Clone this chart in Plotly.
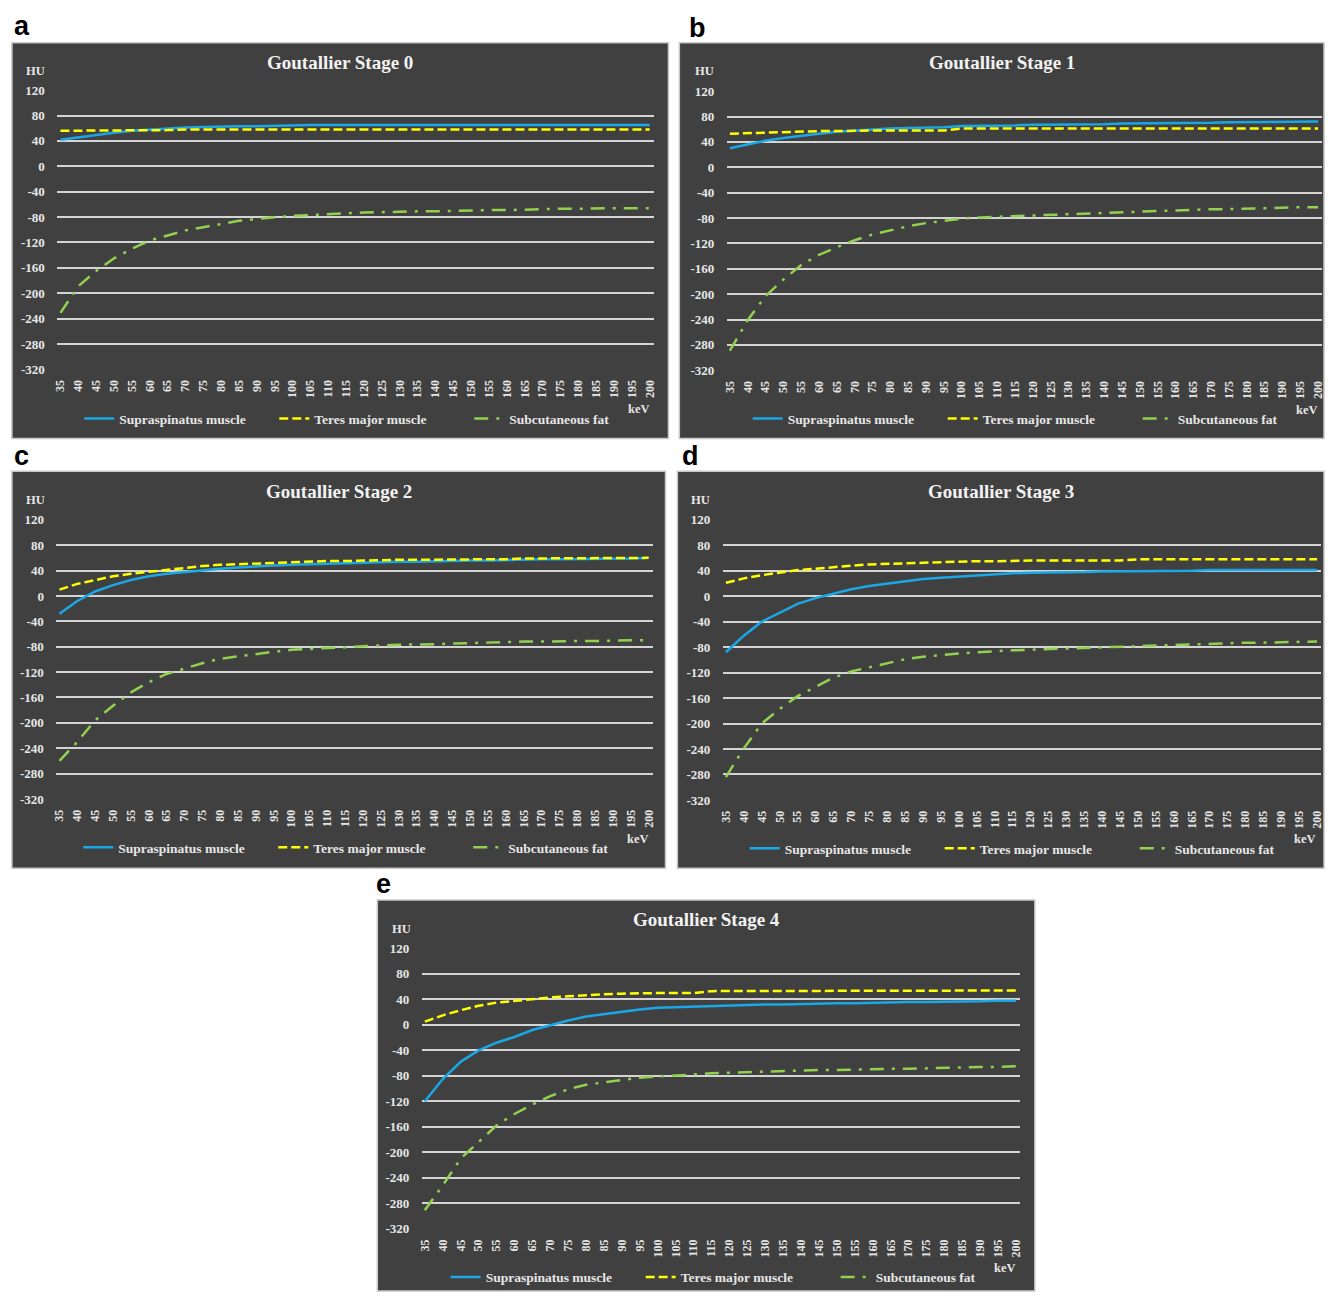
import plotly.graph_objects as go

# ---------------- data ----------------
kev = [35, 40, 45, 50, 55, 60, 65, 70, 75, 80, 85, 90, 95, 100, 105, 110, 115, 120,
       125, 130, 135, 140, 145, 150, 155, 160, 165, 170, 175, 180, 185, 190, 195, 200]
y_ticks = [120, 80, 40, 0, -40, -80, -120, -160, -200, -240, -280, -320]
y_tick_labels = ["120", "80", "40", "0", "-40", "-80", "-120", "-160", "-200", "-240", "-280", "-320"]

series_names = ["Supraspinatus muscle", "Teres major muscle", "Subcutaneous fat"]
stage_titles = ["Goutallier Stage 0", "Goutallier Stage 1", "Goutallier Stage 2",
                "Goutallier Stage 3", "Goutallier Stage 4"]
panel_letters = ["a", "b", "c", "d", "e"]

s0_supra = [42, 46, 50, 53, 56, 58, 60, 61, 62, 63, 63, 63, 64, 64, 65, 65, 65, 65,
            65, 65, 65, 65, 65, 65, 65, 65, 65, 65, 65, 65, 65, 65, 65, 65]
s0_teres = [56, 56, 56, 57, 57, 57, 57, 58, 58, 58, 58, 58, 58, 58, 58, 58, 58, 58,
            58, 58, 58, 58, 58, 58, 58, 58, 58, 58, 58, 58, 58, 58, 58, 58]
s0_fat = [-231, -189, -165, -145, -130, -117, -109, -101, -96, -91, -86, -83, -80, -78, -77, -75, -74, -73,
          -72, -72, -71, -71, -70, -70, -69, -69, -68, -68, -67, -67, -66, -66, -66, -66]

s1_supra = [30, 36, 42, 46, 50, 53, 56, 58, 60, 61, 62, 62, 63, 65, 65, 66, 66, 67,
            67, 68, 68, 68, 69, 69, 69, 70, 70, 70, 71, 71, 71, 71, 72, 72]
s1_teres = [53, 54, 55, 56, 56, 57, 57, 58, 58, 58, 58, 58, 58, 61, 61, 61, 61, 61,
            61, 61, 61, 61, 61, 61, 61, 61, 61, 61, 61, 61, 61, 61, 61, 61]
s1_fat = [-289, -241, -203, -177, -154, -138, -126, -115, -106, -99, -93, -88, -84, -81, -79, -78, -76, -75,
          -74, -73, -72, -71, -70, -69, -68, -67, -67, -66, -66, -65, -65, -64, -63, -63]

s2_supra = [-28, -8, 7, 17, 25, 31, 35, 38, 41, 43, 45, 47, 48, 49, 50, 51, 52, 53,
            53, 54, 54, 55, 55, 56, 56, 57, 57, 58, 58, 58, 59, 59, 59, 60]
s2_teres = [10, 19, 25, 31, 35, 38, 41, 45, 47, 49, 50, 52, 53, 54, 54, 55, 55, 56,
            56, 57, 57, 57, 58, 58, 58, 58, 59, 59, 59, 59, 60, 60, 60, 60]
s2_fat = [-260, -230, -196, -173, -152, -136, -123, -114, -106, -99, -95, -91, -88, -85, -83, -82, -81, -79,
          -78, -77, -77, -76, -75, -74, -73, -73, -72, -72, -71, -71, -71, -70, -70, -70]

s3_supra = [-88, -62, -40, -26, -12, -3, 4, 11, 16, 20, 24, 27, 29, 31, 33, 34, 36, 37,
            37, 38, 38, 39, 39, 39, 40, 40, 40, 41, 41, 41, 41, 41, 41, 41]
s3_teres = [21, 28, 33, 37, 41, 43, 46, 48, 50, 51, 52, 53, 54, 54, 55, 55, 56, 56,
            56, 56, 56, 56, 56, 58, 58, 58, 58, 58, 58, 58, 58, 58, 58, 58]
s3_fat = [-284, -239, -200, -177, -157, -142, -128, -118, -112, -105, -99, -95, -92, -90, -88, -86, -85, -84,
          -83, -82, -81, -80, -79, -78, -77, -76, -75, -75, -74, -73, -73, -72, -71, -71]

s4_supra = [-120, -85, -58, -40, -28, -19, -8, 0, 7, 13, 17, 21, 24, 27, 28, 29, 30, 31,
            31, 32, 32, 33, 33, 34, 34, 35, 35, 36, 36, 36, 37, 37, 38, 38]
s4_teres = [5, 15, 23, 30, 35, 38, 41, 43, 45, 47, 48, 49, 50, 50, 50, 50, 53, 53,
            53, 53, 53, 53, 53, 53, 53, 54, 54, 54, 54, 54, 54, 54, 54, 54]
s4_fat = [-291, -252, -210, -184, -158, -140, -125, -112, -101, -94, -90, -87, -83, -81, -80, -78, -76, -75,
          -74, -73, -73, -72, -71, -71, -70, -70, -69, -69, -68, -67, -67, -66, -66, -65]

stage_data = [
    (s0_supra, s0_teres, s0_fat),
    (s1_supra, s1_teres, s1_fat),
    (s2_supra, s2_teres, s2_fat),
    (s3_supra, s3_teres, s3_fat),
    (s4_supra, s4_teres, s4_fat),
]

# ---------------- layout (pixel geometry) ----------------
W, H = 1333, 1298
panels = [
    dict(box=(8, 37, 671, 437), x35=57, x200=652, y120=85, y320=367, leg=(76, 417), kevp=(641, 407), hup=(32, 66), let=(18, 20)),
    dict(box=(682, 37, 1333, 437), x35=733, x200=1327, y120=86, y320=368, leg=(751, 417), kevp=(1316, 408), hup=(707, 66), let=(700, 22)),
    dict(box=(8, 470, 668, 871), x35=56, x200=651, y120=519, y320=801, leg=(75, 850), kevp=(640, 841), hup=(32, 499), let=(18, 455)),
    dict(box=(680, 470, 1333, 871), x35=729, x200=1326, y120=519, y320=802, leg=(748, 851), kevp=(1314, 841), hup=(703, 499), let=(693, 455)),
    dict(box=(377, 903, 1041, 1298), x35=425, x200=1022, y120=952, y320=1235, leg=(446, 1284), kevp=(1011, 1275), hup=(401, 932), let=(383, 887)),
]

colors = ["#1aa7e6", "#ffff00", "#92d050"]
dashes = ["solid", "9px,4px", "14px,8px,3px,8px"]
BG = "#404040"
GRID = "#d4d4d4"
TXT = "#e6e6e6"
SERIF = "Liberation Serif"


def px(x):
    return x / W


def py(y):
    return 1 - y / H


fig = go.Figure()
shapes = []
annotations = []
layout = {}

for i, (p, data) in enumerate(zip(panels, stage_data)):
    n = i + 1
    sx = "" if n == 1 else str(n)
    x0b, y0b, x1b, y1b = p["box"]
    shapes.append(dict(type="rect", xref="paper", yref="paper",
                       x0=px(x0b), x1=px(x1b), y0=py(y1b), y1=py(y0b),
                       fillcolor=BG, line=dict(color="#c8c8c8", width=1.5), layer="below"))
    ppk = (p["x200"] - p["x35"]) / 165.0
    left_px = p["x35"] - 3
    right_px = p["x200"] + 4
    xr = [35 - 3 / ppk, 200 + 4 / ppk]
    ppu = (p["y320"] - p["y120"]) / 440.0
    top_px = p["y120"] - 1.5 * ppu
    bot_px = p["y320"] + 1.5 * ppu
    yr = [-321.5, 121.5]

    layout["xaxis" + sx] = dict(
        domain=[px(left_px), px(right_px)], range=xr, anchor="y" + sx,
        tickmode="array", tickvals=kev, ticktext=[str(k) for k in kev],
        tickangle=-90, showgrid=False, zeroline=False, showline=False,
        ticks="outside", ticklen=4, tickcolor=BG,
        tickfont=dict(family=SERIF, size=12, color=TXT, weight="bold"),
    )
    layout["yaxis" + sx] = dict(
        domain=[py(bot_px), py(top_px)], range=yr, anchor="x" + sx,
        tickmode="array", tickvals=y_ticks, ticktext=y_tick_labels,
        showgrid=True, gridcolor=GRID, gridwidth=2,
        zeroline=False, showline=False, ticks="outside", ticklen=9, tickcolor=BG,
        tickfont=dict(family=SERIF, size=13, color=TXT, weight="bold"),
    )

    lg = "legend" + sx
    for k in range(3):
        fig.add_trace(go.Scatter(
            x=kev, y=data[k], mode="lines", name=series_names[k],
            line=dict(color=colors[k], width=2.5, dash=dashes[k]),
            xaxis="x" + sx, yaxis="y" + sx, legend=lg, hoverinfo="x+y+name",
        ))
    layout[lg] = dict(
        x=px(p["leg"][0]), y=py(p["leg"][1]), xanchor="left", yanchor="middle",
        orientation="h", bgcolor="rgba(0,0,0,0)", borderwidth=0,
        font=dict(family=SERIF, size=13.5, color=TXT, weight="bold"),
        itemwidth=30, entrywidth=150, entrywidthmode="pixels", traceorder="normal",
    )

    cx = (x0b + x1b) / 2
    annotations.append(dict(text="<b>%s</b>" % stage_titles[i], x=px(cx), y=py(p["box"][1] + 20),
                            xref="paper", yref="paper", showarrow=False, xanchor="center", yanchor="middle",
                            font=dict(family=SERIF, size=19, color="#f2f2f2")))
    annotations.append(dict(text="<b>HU</b>", x=px(p["hup"][0]), y=py(p["hup"][1]),
                            xref="paper", yref="paper", showarrow=False, xanchor="center", yanchor="middle",
                            font=dict(family=SERIF, size=12.5, color=TXT)))
    annotations.append(dict(text="<b>keV</b>", x=px(p["kevp"][0]), y=py(p["kevp"][1]),
                            xref="paper", yref="paper", showarrow=False, xanchor="center", yanchor="middle",
                            font=dict(family=SERIF, size=12.5, color=TXT)))
    annotations.append(dict(text="<b>%s</b>" % panel_letters[i], x=px(p["let"][0]), y=py(p["let"][1]),
                            xref="paper", yref="paper", showarrow=False, xanchor="center", yanchor="middle",
                            font=dict(family="Liberation Sans", size=27, color="#000000")))

fig.update_layout(
    width=W, height=H, margin=dict(l=0, r=0, t=0, b=0),
    paper_bgcolor="#ffffff", plot_bgcolor="rgba(0,0,0,0)",
    shapes=shapes, annotations=annotations, showlegend=True,
    **layout,
)

fig.write_html(
    "out.html",
    config={"displayModeBar": False},
    post_script=(
        "document.documentElement.style.margin='0px';"
        "document.body.style.margin='0px';document.body.style.padding='0px';"
        "document.body.style.overflow='hidden';document.documentElement.style.overflow='hidden';"
        "var gd=document.getElementById('{plot_id}');"
        "gd.style.position='fixed';gd.style.left='0px';gd.style.top='0px';"
    ),
)
